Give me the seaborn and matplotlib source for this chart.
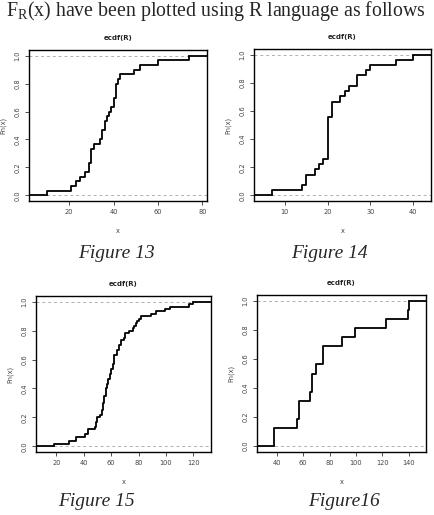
import numpy as np
import matplotlib
matplotlib.use("Agg")
import matplotlib.pyplot as plt
import seaborn as sns

sns.set_style("white")
plt.rcParams["font.family"] = ["DejaVu Sans"]
plt.rcParams["mathtext.fontset"] = "custom"
plt.rcParams["mathtext.rm"] = "Liberation Serif"

# =====================================
# Data (sample values read from the steps)
# =====================================

fig13_values = [10, 21, 23, 25, 27, 29, 29, 30, 30, 30, 31, 34, 35, 35,
                36, 36, 37, 38, 39, 40, 40, 41, 41, 41, 42, 43, 49, 52,
                60, 74]

fig14_values = [7, 14, 15, 15, 17, 18, 19, 20, 20, 20, 20, 20, 20, 20,
                20, 21, 21, 21, 23, 24, 25, 27, 27, 29, 30, 36, 40]

fig15_knots = [18, 29, 34, 41, 43, 48, 49, 50, 52, 53, 54, 55, 56, 57,
               58, 59, 60, 61, 62, 64, 66, 67, 69, 70, 73, 76, 77, 78,
               79, 80, 82, 89, 93, 99, 103, 117, 120]
fig15_counts = [1, 1, 2, 1, 2, 1, 2, 2, 1, 2, 3, 3, 3, 2,
                2, 2, 2, 2, 4, 2, 2, 2, 1, 2, 1, 1, 1, 1,
                1, 1, 1, 1, 1, 1, 1, 1, 1]
fig15_values = list(np.repeat(fig15_knots, fig15_counts))

fig16_values = [38, 38, 55, 57, 57, 65, 67, 67, 70, 75, 75, 89, 99, 123,
                139, 140]

# values, x ticks, plot box in pixels, caption, caption centre (px)
panels = [
    (fig13_values, [20, 40, 60, 80], [29, 50, 207, 201], "Figure 13", (116, 253)),
    (fig14_values, [10, 20, 30, 40], [254, 49, 431, 201], "Figure 14", (329, 253)),
    (fig15_values, [20, 40, 60, 80, 100, 120], [36, 296, 211, 452], "Figure 15", (96, 502)),
    (fig16_values, [40, 60, 80, 100, 120, 140], [257, 295, 426, 452], "Figure16", (344, 502)),
]

W, H = 435, 515
fig = plt.figure(figsize=(W / 100, H / 100), dpi=100)

fig.text(216 / W, 1 - 11 / H,
         "F$_{\\mathrm{R}}$(x) have been plotted using R language as follows",
         ha="center", va="center", fontsize=14.3, family="Liberation Serif")

for values, xticks, (x0, y0, x1, y1), caption, (cx, cy) in panels:
    ax = fig.add_axes([x0 / W, 1 - y1 / H, (x1 - x0) / W, (y1 - y0) / H])

    # R style limits: extend knots range by 8%, then 4% axis padding
    lo, hi = min(values), max(values)
    dr = 0.08 * (hi - lo)
    a, b = lo - dr, hi + dr
    pad = 0.04 * (b - a)
    ax.set_xlim(a - pad, b + pad)
    ax.set_ylim(-0.04, 1.04)

    ax.axhline(0, color="#b0b0b0", lw=0.7, ls=(0, (3, 3)))
    ax.axhline(1, color="#b0b0b0", lw=0.7, ls=(0, (3, 3)))

    sns.ecdfplot(x=values, ax=ax, color="black", lw=1.3)
    ax.plot([a - pad, lo], [0, 0], color="black", lw=1.3)
    ax.plot([hi, b + pad], [1, 1], color="black", lw=1.3)

    ax.set_xticks(xticks)
    ax.set_yticks([0, 0.2, 0.4, 0.6, 0.8, 1.0])
    ax.set_yticklabels(["0.0", "0.2", "0.4", "0.6", "0.8", "1.0"],
                       rotation=90, va="center")
    ax.tick_params(axis="both", direction="out", length=3, width=0.6,
                   labelsize=4.8, labelcolor="#444444", color="#333333",
                   pad=3, bottom=True, left=True)
    for s in ax.spines.values():
        s.set_visible(True)
        s.set_color("black")
        s.set_linewidth(1.0)

    ax.set_title("ecdf(R)", fontsize=5, fontweight="bold", pad=7,
                 color="#222222")
    ax.set_xlabel("x", fontsize=4.8, color="#444444", labelpad=9)
    ax.set_ylabel("Fn(x)", fontsize=4.8, color="#444444", labelpad=6)

    fig.text(cx / W, 1 - cy / H, caption,
             ha="center", va="center", fontsize=14, style="italic",
             family="Liberation Serif")

fig.savefig("out.png", dpi=100)
